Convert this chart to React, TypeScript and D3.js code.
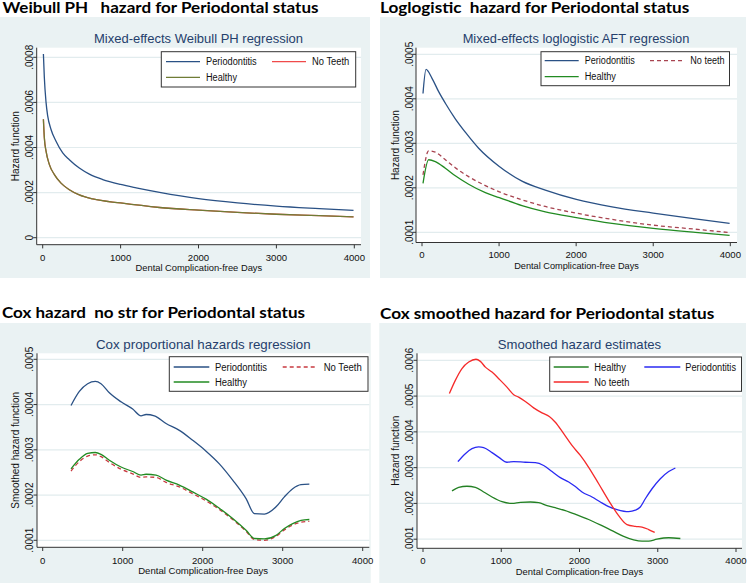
import React from "react";
import * as d3 from "d3";

type Pt = [number, number];

// ---------- Data (days, hazard) ----------
const weibullPeriodontitis: Pt[] = [
  [9, 0.000815], [21, 0.00071], [43, 0.0006], [64, 0.00054], [107, 0.00048], [171, 0.000428],
  [257, 0.000376], [342, 0.000346], [470, 0.000309], [599, 0.000282], [770, 0.000258],
  [1000, 0.000236], [1200, 0.000221], [1500, 0.000201], [2000, 0.000173], [2500, 0.000154],
  [3000, 0.00014], [3550, 0.000129], [3990, 0.000121],
];
const weibullNoTeeth: Pt[] = [
  [9, 0.000525], [21, 0.000443], [43, 0.000384], [86, 0.000324], [150, 0.00028], [235, 0.000242],
  [342, 0.000213], [470, 0.00019], [642, 0.000172], [1000, 0.000154], [1500, 0.000134],
  [2000, 0.000122], [2500, 0.000112], [3000, 0.000104], [3550, 0.0000975], [3990, 0.000092],
];
const weibullHealthy: Pt[] = [
  [9, 0.000525], [21, 0.000443], [43, 0.000384], [86, 0.000324], [150, 0.00028], [235, 0.000242],
  [342, 0.000213], [470, 0.00019], [642, 0.000172], [1000, 0.000154], [1500, 0.000134],
  [2000, 0.000122], [2500, 0.000112], [3000, 0.000104], [3550, 0.0000975], [3990, 0.000092],
];

const loglogPeriodontitis: Pt[] = [
  [13, 0.000412], [52, 0.000466], [130, 0.000446], [216, 0.000416], [303, 0.00039], [432, 0.000355],
  [562, 0.000325], [735, 0.000289], [1003, 0.000248], [1297, 0.000215], [1600, 0.000195],
  [2002, 0.000174], [2465, 0.000157], [3000, 0.000143], [3546, 0.00013], [3991, 0.00012],
];
const loglogNoTeeth: Pt[] = [
  [13, 0.000229], [86, 0.000283], [173, 0.00028], [303, 0.000263], [432, 0.000245], [605, 0.000225],
  [822, 0.000205], [1003, 0.000191], [1297, 0.000173], [1600, 0.000158], [2002, 0.000143],
  [2465, 0.000129], [3000, 0.000116], [3546, 0.000107], [3991, 0.0000993],
];
const loglogHealthy: Pt[] = [
  [13, 0.00021], [86, 0.000263], [173, 0.000259], [303, 0.000244], [432, 0.000227], [605, 0.000208],
  [822, 0.000189], [1003, 0.000178], [1297, 0.00016], [1600, 0.000146], [2002, 0.000133],
  [2465, 0.00012], [3000, 0.000109], [3546, 0.0001], [3991, 0.0000933],
];

const coxPeriodontitis: Pt[] = [
  [354, 0.000398], [458, 0.000429], [562, 0.000446], [658, 0.000451], [729, 0.000446], [833, 0.000426],
  [979, 0.000406], [1125, 0.00039], [1229, 0.000375], [1292, 0.000378], [1396, 0.000375],
  [1542, 0.000358], [1708, 0.000343], [1875, 0.000321], [2042, 0.000297], [2208, 0.000269],
  [2375, 0.000233], [2542, 0.000192], [2646, 0.000159], [2771, 0.000158], [2917, 0.000174],
  [3021, 0.000196], [3125, 0.000214], [3229, 0.000223], [3333, 0.000224],
];
const coxNoTeeth: Pt[] = [
  [354, 0.000253], [458, 0.000274], [562, 0.000286], [658, 0.000289], [729, 0.000285], [833, 0.000272],
  [979, 0.000257], [1125, 0.000247], [1229, 0.000239], [1292, 0.000240], [1417, 0.000239],
  [1542, 0.000228], [1708, 0.000218], [1875, 0.000203], [2042, 0.000187], [2208, 0.000168],
  [2375, 0.000146], [2542, 0.00012], [2646, 0.000102], [2771, 0.0001], [2917, 0.000109],
  [3021, 0.000123], [3125, 0.000134], [3229, 0.00014], [3333, 0.000142],
];
const coxHealthy: Pt[] = [
  [354, 0.000258], [458, 0.000279], [562, 0.000292], [658, 0.000294], [729, 0.00029], [833, 0.000277],
  [979, 0.000262], [1125, 0.000252], [1229, 0.000244], [1292, 0.000246], [1417, 0.000244],
  [1542, 0.000233], [1708, 0.000222], [1875, 0.000207], [2042, 0.000191], [2208, 0.000171],
  [2375, 0.000148], [2542, 0.000122], [2646, 0.000104], [2771, 0.000103], [2917, 0.000111],
  [3021, 0.000126], [3125, 0.000137], [3229, 0.000144], [3333, 0.000146],
];

const smoothHealthy: Pt[] = [
  [371, 0.000235], [456, 0.000245], [562, 0.000248], [669, 0.000245], [775, 0.000232], [882, 0.000218],
  [1010, 0.000205], [1137, 0.0002], [1244, 0.000203], [1372, 0.000204], [1478, 0.000202],
  [1585, 0.000194], [1691, 0.000188], [1819, 0.00018], [1968, 0.000168], [2117, 0.000155],
  [2266, 0.00014], [2415, 0.000124], [2564, 0.000108], [2692, 0.000098], [2799, 0.0000944],
  [2884, 0.0000944], [2990, 0.0001], [3140, 0.000104], [3289, 0.000102],
];
const smoothPeriodontitis: Pt[] = [
  [447, 0.000317], [541, 0.000339], [626, 0.000353], [711, 0.000358], [775, 0.000356], [882, 0.000342],
  [975, 0.000328], [1073, 0.000315], [1159, 0.000317], [1308, 0.000315], [1436, 0.000314],
  [1542, 0.000306], [1649, 0.000289], [1755, 0.000272], [1862, 0.00026], [1947, 0.000247],
  [2032, 0.000232], [2160, 0.000218], [2266, 0.000204], [2373, 0.000191], [2479, 0.000183],
  [2628, 0.000177], [2714, 0.000181], [2777, 0.00019], [2841, 0.000213], [2927, 0.000241],
  [3033, 0.000269], [3140, 0.000289], [3225, 0.000299],
];
const smoothNoTeeth: Pt[] = [
  [337, 0.000507], [413, 0.000544], [498, 0.000577], [584, 0.000595], [677, 0.000603], [733, 0.000597],
  [797, 0.000581], [882, 0.000567], [975, 0.000547], [1073, 0.000525], [1159, 0.000504],
  [1222, 0.000497], [1308, 0.000485], [1414, 0.000467], [1521, 0.000453], [1614, 0.000443],
  [1691, 0.000427], [1798, 0.000395], [1904, 0.000362], [2011, 0.000334], [2117, 0.000301],
  [2245, 0.000255], [2373, 0.000208], [2500, 0.000166], [2607, 0.000141], [2714, 0.000136],
  [2799, 0.000134], [2884, 0.000127], [2961, 0.000119],
];

const xTicks = [0, 1000, 2000, 3000, 4000];
const weibullYTicks = [0, 0.0002, 0.0004, 0.0006, 0.0008];
const loglogYTicks = [0.0001, 0.0002, 0.0003, 0.0004, 0.0005];
const coxYTicks = [0.0001, 0.0002, 0.0003, 0.0004, 0.0005];
const smoothYTicks = [0.0001, 0.0002, 0.0003, 0.0004, 0.0005, 0.0006];

const weibullLabels = ["Periodontitis", "No Teeth", "Healthy"];
const loglogLabels = ["Periodontitis", "No teeth", "Healthy"];
const coxLabels = ["Periodontitis", "No Teeth", "Healthy"];
const smoothLabels = ["Healthy", "Periodontitis", "No teeth"];

// ---------- Styles ----------
const BG = "#eaf2f3";
const GRID = "#e2ecee";
const NAVY = "#2a5185";
const TITLE = "#25406c";
const FONT = "'Liberation Sans', Arial, sans-serif";
const HFONT = "Lato, 'Open Sans', sans-serif";

interface Series { data: Pt[]; color: string; dash?: string; label: string; }
interface LegendEntry { s: number; row: number; lx1: number; lx2: number; tx: number; tw: number; }
interface PanelCfg {
  bg: [number, number, number, number];
  heading: string; hx: number; hy: number; hw: number;
  title: string; tcx: number; ty: number; tw: number;
  plot: { l: number; r: number; t: number; b: number };
  xr: [number, number]; yd: [number, number]; yr: [number, number];
  yTicks: number[];
  xTickY: number; xLabelY: number; xLabelW: number;
  yLabel: string; yLabelX: number; yTickX: number;
  series: Series[];
  legendBox: [number, number, number, number];
  legend: LegendEntry[];
}

const fmtY = (v: number) => (v === 0 ? "0" : d3.format(".4f")(v).replace(/^0/, ""));

function Panel({ c }: { c: PanelCfg }) {
  const x = d3.scaleLinear().domain([0, 4000]).range(c.xr);
  const y = d3.scaleLinear().domain(c.yd).range(c.yr);
  const line = d3.line<Pt>().x((d) => x(d[0])).y((d) => y(d[1])).curve(d3.curveMonotoneX);
  const { l, r, t, b } = c.plot;
  const cx = (l + r) / 2;
  const cy = (t + b) / 2;
  const [bx1, by1, bx2, by2] = c.legendBox;
  return (
    <g>
      <rect x={c.bg[0]} y={c.bg[1]} width={c.bg[2] - c.bg[0]} height={c.bg[3] - c.bg[1]} fill={BG} />
      <rect x={l} y={t} width={r - l} height={b - t} fill="#ffffff" />
      {c.yTicks.map((v) => (
        <line key={v} x1={l} x2={r} y1={y(v)} y2={y(v)} stroke={GRID} strokeWidth={1.2} />
      ))}
      {c.series.map((s, i) => (
        <path key={i} d={line(s.data) || ""} fill="none" stroke={s.color} strokeWidth={1.3}
          strokeDasharray={s.dash} />
      ))}
      <line x1={l} x2={l} y1={t} y2={b} stroke="#333" strokeWidth={1} />
      <line x1={l} x2={r} y1={b} y2={b} stroke="#333" strokeWidth={1} />
      {c.yTicks.map((v) => (
        <g key={v}>
          <line x1={l - 3.5} x2={l} y1={y(v)} y2={y(v)} stroke="#333" strokeWidth={1} />
          <text transform={`translate(${c.yTickX},${y(v)}) rotate(-90)`} textAnchor="middle"
            fontFamily={FONT} fontSize={10} fill="#111">{fmtY(v)}</text>
        </g>
      ))}
      {xTicks.map((v) => (
        <g key={v}>
          <line x1={x(v)} x2={x(v)} y1={b} y2={b + 3.7} stroke="#333" strokeWidth={1} />
          <text x={x(v)} y={c.xTickY} textAnchor="middle" fontFamily={FONT} fontSize={9.6}
            fill="#111">{String(v)}</text>
        </g>
      ))}
      <text x={cx} y={c.xLabelY} textAnchor="middle" fontFamily={FONT} fontSize={9.6} fill="#111"
        textLength={c.xLabelW} lengthAdjust="spacingAndGlyphs">Dental Complication-free Days</text>
      <text transform={`translate(${c.yLabelX},${cy}) rotate(-90)`} textAnchor="middle"
        fontFamily={FONT} fontSize={10} fill="#111">{c.yLabel}</text>
      <rect x={bx1} y={by1} width={bx2 - bx1} height={by2 - by1} fill="#ffffff" stroke="#333" strokeWidth={1} />
      {c.legend.map((e, i) => {
        const s = c.series[e.s];
        return (
          <g key={i}>
            <line x1={e.lx1} x2={e.lx2} y1={e.row} y2={e.row} stroke={s.color} strokeWidth={1.3}
              strokeDasharray={s.dash} />
            <text x={e.tx} y={e.row + 3.6} fontFamily={FONT} fontSize={10} fill="#111"
              textLength={e.tw} lengthAdjust="spacingAndGlyphs">{s.label}</text>
          </g>
        );
      })}
      <text x={c.tcx} y={c.ty} textAnchor="middle" fontFamily={FONT} fontSize={13.5} fill={TITLE}
        textLength={c.tw} lengthAdjust="spacingAndGlyphs">{c.title}</text>
      <text x={c.hx} y={c.hy} fontFamily={HFONT} fontWeight={700} fontSize={14.5} fill="#000"
        style={{ whiteSpace: "pre" }} textLength={c.hw} lengthAdjust="spacingAndGlyphs">{c.heading}</text>
    </g>
  );
}

const panels: PanelCfg[] = [
  {
    bg: [0, 17, 370, 278],
    heading: "Weibull PH   hazard for Periodontal status", hx: 2.5, hy: 12.7, hw: 316,
    title: "Mixed-effects Weibull PH regression", tcx: 198.5, ty: 42.5, tw: 209,
    plot: { l: 36.7, r: 361, t: 47.7, b: 244.7 },
    xr: [42.7, 354.3], yd: [0, 0.0008], yr: [237.7, 57.3], yTicks: weibullYTicks,
    xTickY: 261.3, xLabelY: 271.3, xLabelW: 126.7,
    yLabel: "Hazard function", yLabelX: 18.5, yTickX: 32.5,
    series: [
      { data: weibullPeriodontitis, color: NAVY, label: weibullLabels[0] },
      { data: weibullNoTeeth, color: "#f04a4a", label: weibullLabels[1] },
      { data: weibullHealthy, color: "#6f7c36", label: weibullLabels[2] },
    ],
    legendBox: [161.3, 51.7, 355.7, 87],
    legend: [
      { s: 0, row: 61.7, lx1: 166, lx2: 200, tx: 206, tw: 50.7 },
      { s: 1, row: 61.7, lx1: 272, lx2: 306, tx: 312, tw: 37.3 },
      { s: 2, row: 77.3, lx1: 166, lx2: 200, tx: 206, tw: 31 },
    ],
  },
  {
    bg: [380, 17, 746, 278],
    heading: "Loglogistic  hazard for Periodontal status", hx: 380, hy: 12.7, hw: 309.3,
    title: "Mixed-effects loglogistic AFT regression", tcx: 576, ty: 42.5, tw: 226.7,
    plot: { l: 416, r: 737, t: 47.7, b: 242.5 },
    xr: [422, 730.3], yd: [0.0001, 0.0005], yr: [232.3, 54.3], yTicks: loglogYTicks,
    xTickY: 258.2, xLabelY: 268.9, xLabelW: 124.7,
    yLabel: "Hazard function", yLabelX: 398.5, yTickX: 412.5,
    series: [
      { data: loglogPeriodontitis, color: NAVY, label: loglogLabels[0] },
      { data: loglogNoTeeth, color: "#a84450", dash: "4 3", label: loglogLabels[1] },
      { data: loglogHealthy, color: "#228b22", label: loglogLabels[2] },
    ],
    legendBox: [541, 51.7, 729.5, 85.7],
    legend: [
      { s: 0, row: 60.7, lx1: 544.7, lx2: 578.7, tx: 584.7, tw: 50 },
      { s: 1, row: 60.7, lx1: 650, lx2: 684.7, tx: 690.3, tw: 34.3 },
      { s: 2, row: 76.7, lx1: 544.7, lx2: 578.7, tx: 584.7, tw: 31.3 },
    ],
  },
  {
    bg: [0, 323, 370.7, 583],
    heading: "Cox hazard  no str for Periodontal status", hx: 2, hy: 318, hw: 303,
    title: "Cox proportional hazards regression", tcx: 203.3, ty: 349, tw: 214.7,
    plot: { l: 37, r: 369.3, t: 353.3, b: 547.3 },
    xr: [42.7, 362.7], yd: [0.0001, 0.0005], yr: [540.3, 359.3], yTicks: coxYTicks,
    xTickY: 564.2, xLabelY: 574.4, xLabelW: 130,
    yLabel: "Smoothed hazard function", yLabelX: 19, yTickX: 32.5,
    series: [
      { data: coxPeriodontitis, color: NAVY, label: coxLabels[0] },
      { data: coxNoTeeth, color: "#c83a40", dash: "4 3", label: coxLabels[1] },
      { data: coxHealthy, color: "#228b22", label: coxLabels[2] },
    ],
    legendBox: [169.3, 356.7, 368, 391.3],
    legend: [
      { s: 0, row: 367, lx1: 173.7, lx2: 209.3, tx: 215, tw: 52 },
      { s: 1, row: 367, lx1: 282.7, lx2: 317.7, tx: 323.7, tw: 38 },
      { s: 2, row: 382, lx1: 173.7, lx2: 209.3, tx: 215, tw: 32 },
    ],
  },
  {
    bg: [379.3, 323, 746, 583],
    heading: "Cox smoothed hazard for Periodontal status", hx: 380, hy: 319, hw: 334.3,
    title: "Smoothed hazard estimates", tcx: 579.5, ty: 348.5, tw: 163.3,
    plot: { l: 417, r: 742, t: 353.3, b: 548.3 },
    xr: [423, 736], yd: [0.0001, 0.0006], yr: [539.2, 360.3], yTicks: smoothYTicks,
    xTickY: 564.2, xLabelY: 574.8, xLabelW: 127.3,
    yLabel: "Hazard function", yLabelX: 399, yTickX: 412.5,
    series: [
      { data: smoothHealthy, color: "#238023", label: smoothLabels[0] },
      { data: smoothPeriodontitis, color: "#2a2af2", label: smoothLabels[1] },
      { data: smoothNoTeeth, color: "#f52a2a", label: smoothLabels[2] },
    ],
    legendBox: [549.7, 357, 741.5, 391.3],
    legend: [
      { s: 0, row: 367, lx1: 553.7, lx2: 588.7, tx: 594.3, tw: 31.7 },
      { s: 1, row: 367, lx1: 644.3, lx2: 680.3, tx: 685.3, tw: 50.7 },
      { s: 2, row: 382, lx1: 553.7, lx2: 588.7, tx: 594.3, tw: 35 },
    ],
  },
];

export default function App() {
  return (
    <svg width={752} height={583} viewBox="0 0 752 583"
      style={{ position: "absolute", left: 0, top: 0, background: "#ffffff" }}>
      <rect x={0} y={0} width={752} height={583} fill="#ffffff" />
      {panels.map((p, i) => (
        <Panel key={i} c={p} />
      ))}
    </svg>
  );
}
